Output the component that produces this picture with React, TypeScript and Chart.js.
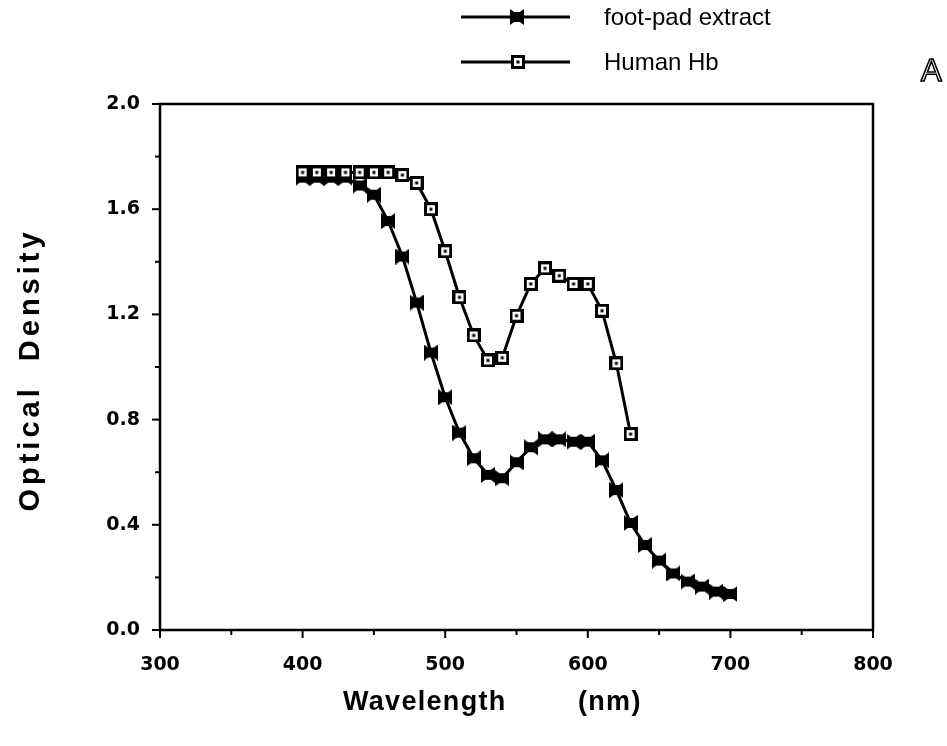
import React, { useEffect, useRef } from "react";
import { Chart, registerables } from "chart.js";
Chart.register(...registerables);

// ---- data ----
const footPadWavelengths = [400, 410, 420, 430, 440, 450, 460, 470, 480, 490, 500, 510, 520, 530, 540, 550, 560, 570, 580, 590, 600, 610, 620, 630, 640, 650, 660, 670, 680, 690, 700];
const footPadOD = [1.72, 1.72, 1.72, 1.72, 1.69, 1.655, 1.555, 1.42, 1.245, 1.055, 0.885, 0.75, 0.653, 0.59, 0.577, 0.638, 0.695, 0.725, 0.725, 0.716, 0.716, 0.645, 0.532, 0.407, 0.323, 0.264, 0.215, 0.184, 0.165, 0.146, 0.137];
const humanHbWavelengths = [400, 410, 420, 430, 440, 450, 460, 470, 480, 490, 500, 510, 520, 530, 540, 550, 560, 570, 580, 590, 600, 610, 620, 630];
const humanHbOD = [1.74, 1.74, 1.74, 1.74, 1.74, 1.74, 1.74, 1.73, 1.70, 1.60, 1.44, 1.265, 1.12, 1.025, 1.035, 1.195, 1.316, 1.375, 1.347, 1.316, 1.316, 1.214, 1.014, 0.745];
const seriesNames = ["foot-pad extract", "Human Hb"];
const xTitleWords = ["Wavelength", "(nm)"];
const yTitle = "Optical  Density";
const panelLabel = "A";

function makeBowtie(): HTMLCanvasElement {
  const c = document.createElement("canvas");
  const w = 14, h = 16;
  c.width = w; c.height = h;
  const g = c.getContext("2d")!;
  g.fillStyle = "#000";
  g.beginPath();
  g.moveTo(0, 0);
  g.lineTo(w / 2, h * 0.32);
  g.lineTo(w, 0);
  g.lineTo(w, h);
  g.lineTo(w / 2, h * 0.68);
  g.lineTo(0, h);
  g.closePath();
  g.fill();
  g.fillRect(w / 2 - 3, 3, 6, h - 6);
  return c;
}

function makeSquare(): HTMLCanvasElement {
  const c = document.createElement("canvas");
  c.width = 14; c.height = 14;
  const g = c.getContext("2d")!;
  g.fillStyle = "#000";
  g.fillRect(0, 0, 14, 14);
  g.fillStyle = "#fff";
  g.fillRect(3, 3, 8, 8);
  g.fillStyle = "#000";
  g.fillRect(5.5, 5.5, 3, 3);
  return c;
}

export default function App() {
  const ref = useRef<HTMLCanvasElement | null>(null);
  useEffect(() => {
    document.body.style.margin = "0";
    const bow = makeBowtie();
    const sq = makeSquare();
    const decor = {
      id: "decor",
      afterDraw(chart: any) {
        const { ctx, chartArea: a, scales } = chart;
        const x = scales.x, y = scales.y;
        ctx.save();
        ctx.strokeStyle = "#000";
        ctx.lineWidth = 2.5;
        ctx.strokeRect(a.left, a.top, a.right - a.left, a.bottom - a.top);
        ctx.lineWidth = 2;
        for (let i = 0; i <= 10; i++) {
          const px = x.getPixelForValue(300 + i * 50);
          const len = i % 2 === 0 ? 8 : 5;
          ctx.beginPath(); ctx.moveTo(px, a.bottom); ctx.lineTo(px, a.bottom + len); ctx.stroke();
        }
        for (let i = 0; i <= 10; i++) {
          const py = y.getPixelForValue(i * 0.2);
          const len = i % 2 === 0 ? 8 : 5;
          ctx.beginPath(); ctx.moveTo(a.left, py); ctx.lineTo(a.left - len, py); ctx.stroke();
        }
        // legend
        const rows = [
          { name: seriesNames[0], img: bow, y: 17, mx: 517 },
          { name: seriesNames[1], img: sq, y: 62, mx: 518 },
        ];
        ctx.fillStyle = "#000";
        ctx.font = '24px "Liberation Sans"';
        ctx.textBaseline = "middle";
        ctx.textAlign = "left";
        for (const r of rows) {
          ctx.lineWidth = 3;
          ctx.beginPath(); ctx.moveTo(461, r.y); ctx.lineTo(570, r.y); ctx.stroke();
          ctx.drawImage(r.img, Math.round(r.mx - r.img.width / 2), Math.round(r.y - r.img.height / 2));
          ctx.fillText(r.name, 604, r.y + 1);
        }
        // panel label
        ctx.font = '31px "Liberation Sans"';
        ctx.lineWidth = 1.6;
        ctx.strokeText(panelLabel, 921, 72);
        // axis titles
        ctx.font = 'bold 27px "Liberation Sans"';
        (ctx as any).letterSpacing = "1.3px";
        ctx.textBaseline = "middle";
        ctx.fillText(xTitleWords[0], 343, 703);
        ctx.fillText(xTitleWords[1], 578, 703);
        ctx.font = 'bold 29px "Liberation Sans"';
        (ctx as any).letterSpacing = "4px";
        ctx.translate(31, 370);
        ctx.rotate(-Math.PI / 2);
        ctx.textAlign = "center";
        ctx.fillText(yTitle, 0, 0);
        ctx.restore();
      },
    };
    const tickFont = { family: '"DejaVu Sans", sans-serif', size: 19, weight: "bold" as any };
    const chart = new Chart(ref.current!, {
      type: "line",
      data: {
        datasets: [
          {
            label: seriesNames[1],
            data: humanHbWavelengths.map((w, i) => ({ x: w, y: humanHbOD[i] })),
            borderColor: "#000",
            borderWidth: 3,
            pointStyle: sq as any,
            pointRadius: 7,
            tension: 0,
            order: 0,
          },
          {
            label: seriesNames[0],
            data: footPadWavelengths.map((w, i) => ({ x: w, y: footPadOD[i] })),
            borderColor: "#000",
            borderWidth: 3,
            pointStyle: bow as any,
            pointRadius: 7,
            tension: 0,
            order: 1,
          },
        ],
      },
      options: {
        animation: false,
        responsive: false,
        devicePixelRatio: 1,
        layout: { padding: { left: 0, right: 74, top: 104, bottom: 0 } },
        plugins: { legend: { display: false }, tooltip: { enabled: false } },
        scales: {
          x: {
            type: "linear",
            min: 300,
            max: 800,
            grid: { display: false, drawTicks: false },
            border: { display: false },
            afterFit: (s: any) => { s.height = 116; },
            ticks: {
              stepSize: 50,
              autoSkip: false,
              maxRotation: 0,
              padding: 24,
              color: "#000",
              font: tickFont,
              callback: (v: any) => (Math.round(v) % 100 === 0 ? String(v) : ""),
            },
          },
          y: {
            type: "linear",
            min: 0,
            max: 2,
            grid: { display: false, drawTicks: false },
            border: { display: false },
            afterFit: (s: any) => { s.width = 160; },
            ticks: {
              stepSize: 0.2,
              autoSkip: false,
              padding: 20,
              color: "#000",
              font: tickFont,
              callback: (v: any) => (Math.round(v * 10) % 4 === 0 ? Number(v).toFixed(1) : ""),
            },
          },
        },
      },
      plugins: [decor],
    });
    return () => chart.destroy();
  }, []);
  return (
    <div style={{ width: 947, height: 746, background: "#fff" }}>
      <canvas ref={ref} width={947} height={746} />
    </div>
  );
}
